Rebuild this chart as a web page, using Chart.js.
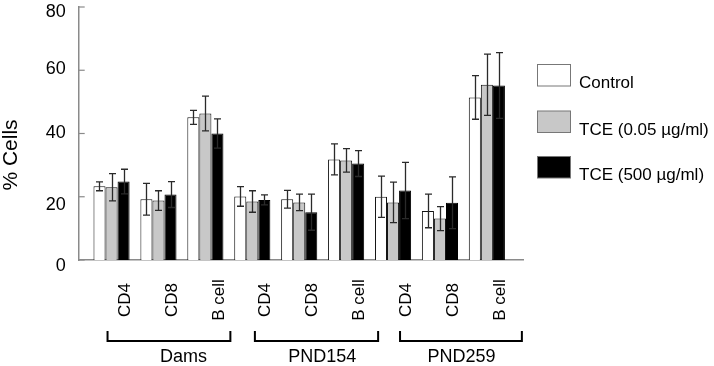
<!DOCTYPE html>
<html><head><meta charset="utf-8">
<script src="https://cdn.jsdelivr.net/npm/chart.js@4/dist/chart.umd.min.js"></script>
<style>html,body{margin:0;padding:0;background:#fff}#wrap{width:714px;height:366px}</style>
</head><body><div id="wrap"><canvas id="c" width="714" height="366"></canvas></div>
<script>
const categories = ['CD4','CD8','B cell','CD4','CD8','B cell','CD4','CD8','B cell'];
const groups = ['Dams','PND154','PND259'];
const seriesLabels = ['Control','TCE (0.05 \u00b5g/ml)','TCE (500 \u00b5g/ml)'];
const control = [23.3, 19.2, 45.1, 20.1, 19.2, 31.8, 20.0, 15.5, 51.4];
const controlErr = [1.4, 5.0, 2.2, 3.1, 2.8, 4.9, 6.5, 5.3, 6.9];
const tceLow = [23.0, 18.8, 46.3, 18.5, 18.2, 31.5, 18.2, 13.1, 55.4];
const tceLowErr = [4.3, 3.1, 5.5, 3.4, 2.6, 3.7, 6.4, 3.8, 9.7];
const tceHigh = [24.8, 20.7, 40.0, 19.0, 15.1, 30.5, 22.0, 18.1, 55.2];
const tceHighErr = [3.9, 4.1, 4.6, 1.6, 5.7, 4.1, 8.9, 8.2, 10.4];
const yTicks = [0, 20, 40, 60, 80];

const FONT = '"Liberation Sans", Arial, sans-serif';
const toPts = arr => arr.map((v, i) => ({x: i, y: v}));

const extras = {
  id: 'extras',
  afterDatasetsDraw(chart) {
    const ctx = chart.ctx, ys = chart.scales.y, xs = chart.scales.x;
    const errs = [controlErr, tceLowErr, tceHighErr];
    ctx.save();
    // error bars
    ctx.strokeStyle = '#2a2a2a'; ctx.lineWidth = 1.3;
    chart.data.datasets.forEach((ds, di) => {
      const meta = chart.getDatasetMeta(di);
      meta.data.forEach((bar, i) => {
        const v = ds.data[i].y, e = errs[di][i];
        const x = Math.round(bar.x) + 0.5;
        const yt = ys.getPixelForValue(v + e), yb = ys.getPixelForValue(v - e);
        ctx.beginPath();
        ctx.moveTo(x, yt); ctx.lineTo(x, yb);
        ctx.moveTo(x - 3.5, yt); ctx.lineTo(x + 3.5, yt);
        ctx.moveTo(x - 3.5, yb); ctx.lineTo(x + 3.5, yb);
        ctx.stroke();
      });
    });
    // inward y ticks and tick labels
    ctx.strokeStyle = '#8a8a8a'; ctx.lineWidth = 1.2;
    ctx.fillStyle = '#000';
    ctx.font = '18px ' + FONT;
    ctx.textAlign = 'right'; ctx.textBaseline = 'middle';
    const lblShift = [5.7, 8.7, 0, -1, 5.5];
    yTicks.forEach((t, k) => {
      const y = ys.getPixelForValue(t);
      ctx.beginPath(); ctx.moveTo(chart.chartArea.left, y); ctx.lineTo(chart.chartArea.left + 6, y); ctx.stroke();
      ctx.fillText(String(t), chart.chartArea.left - 13, y + lblShift[k]);
    });
    // category labels (rotated)
    ctx.font = '17px ' + FONT;
    ctx.textAlign = 'center';
    categories.forEach((c, i) => {
      const x = xs.getPixelForValue(i) + 13.5;
      ctx.save(); ctx.translate(x, 300); ctx.rotate(-Math.PI / 2);
      ctx.fillText(c, 0, 0); ctx.restore();
    });
    // group brackets
    ctx.strokeStyle = '#000'; ctx.lineWidth = 2;
    const brOff = [[-4, 25], [2.6, 32], [7, 35]];
    const txtOff = [25, 23, 21.5];
    ctx.font = '18px ' + FONT;
    groups.forEach((g, gi) => {
      const x0 = xs.getPixelForValue(gi * 3) + brOff[gi][0];
      const x1 = xs.getPixelForValue(gi * 3 + 2) + brOff[gi][1];
      ctx.beginPath();
      ctx.moveTo(x0, 331); ctx.lineTo(x0, 341); ctx.lineTo(x1, 341); ctx.lineTo(x1, 331);
      ctx.stroke();
      ctx.fillText(g, xs.getPixelForValue(gi * 3 + 1) + txtOff[gi], 357);
    });
    // y title
    ctx.font = '21px ' + FONT;
    ctx.save(); ctx.translate(11, 155); ctx.rotate(-Math.PI / 2);
    ctx.fillText('% Cells', 0, 0); ctx.restore();
    // legend
    ctx.font = '17px ' + FONT; ctx.textAlign = 'left';
    const boxY = [64.5, 111, 156.5];
    chart.data.datasets.forEach((ds, di) => {
      ctx.fillStyle = ds.backgroundColor;
      ctx.fillRect(537.5, boxY[di], 33, 21.5);
      ctx.strokeStyle = '#777'; ctx.lineWidth = 1;
      ctx.strokeRect(537.5, boxY[di], 33, 21.5);
      ctx.fillStyle = '#000';
      ctx.fillText(ds.label, 579, boxY[di] + 19);
    });
    ctx.restore();
  }
};

new Chart(document.getElementById('c'), {
  type: 'bar',
  data: {
    datasets: [
      {label: seriesLabels[0], data: toPts(control), backgroundColor: '#ffffff', borderColor: '#111', borderWidth: 1},
      {label: seriesLabels[1], data: toPts(tceLow), backgroundColor: '#c8c8c8', borderColor: '#111', borderWidth: 1},
      {label: seriesLabels[2], data: toPts(tceHigh), backgroundColor: '#000000', borderColor: '#000', borderWidth: 1}
    ]
  },
  options: {
    responsive: false, animation: false,
    devicePixelRatio: 1,
    layout: {padding: {top: 7, right: 191, left: 0, bottom: 0}},
    categoryPercentage: 0.77, barPercentage: 1.0,
    plugins: {legend: {display: false}, tooltip: {enabled: false}},
    scales: {
      x: {
        type: 'linear', min: -0.7, max: 8.77, offset: false,
        ticks: {display: false}, grid: {display: false, drawTicks: false, offset: false},
        border: {display: true, color: '#8a8a8a', width: 1.5},
        afterFit: s => { s.height = 106; s.paddingLeft = 0; s.paddingRight = 0; }
      },
      y: {
        min: 0, max: 80,
        afterBuildTicks: s => { s.ticks = yTicks.map(v => ({value: v})); },
        ticks: {display: false},
        grid: {display: false, drawTicks: false},
        border: {display: true, color: '#8a8a8a', width: 1.5},
        afterFit: s => { s.width = 78.7; s.paddingTop = 0; s.paddingBottom = 0; }
      }
    }
  },
  plugins: [extras]
});
</script></body></html>
